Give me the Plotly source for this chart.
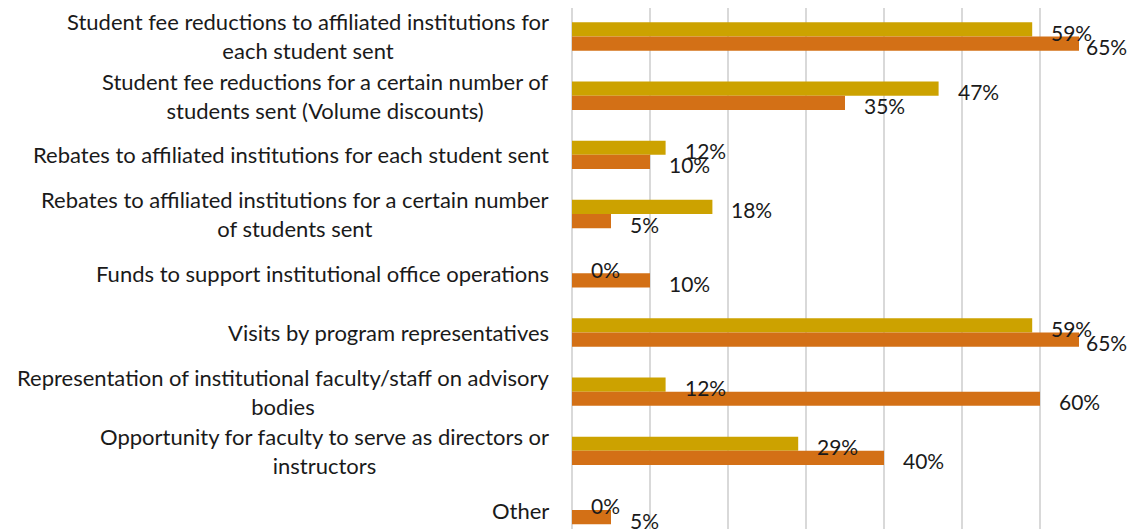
import plotly.graph_objects as go

categories = [
    "Student fee reductions to affiliated institutions for<br>each student sent",
    "Student fee reductions for a certain number of<br>students sent (Volume discounts)",
    "Rebates to affiliated institutions for each student sent",
    "Rebates to affiliated institutions for a certain number<br>of students sent",
    "Funds to support institutional office operations",
    "Visits by program representatives",
    "Representation of institutional faculty/staff on advisory<br>bodies",
    "Opportunity for faculty to serve as directors or<br>instructors",
    "Other",
]
series_gold = [0.59, 0.47, 0.12, 0.18, 0.00, 0.59, 0.12, 0.29, 0.00]
series_orange = [0.65, 0.35, 0.10, 0.05, 0.10, 0.65, 0.60, 0.40, 0.05]

GOLD = "#CCA200"
ORANGE = "#D37016"
FONT = "Lato"
FS_CAT = 22
FS_VAL = 21

W, H = 1135, 521
ML, MR, MT, MB = 564, 25, 0, 0
XMAX = 0.70
plot_w = W - ML - MR

fig = go.Figure()
fig.add_trace(go.Bar(y=categories, x=series_gold, orientation="h",
                     marker=dict(color=GOLD, line=dict(width=0)), name="A"))
fig.add_trace(go.Bar(y=categories, x=series_orange, orientation="h",
                     marker=dict(color=ORANGE, line=dict(width=0)), name="B"))

bargap = 0.52
bw = (1 - bargap) / 2
annotations = []
for i, cat in enumerate(categories):
    annotations.append(dict(x=0, xref="paper", y=i, yref="y", text=cat,
                            xanchor="right", yanchor="middle", align="center",
                            xshift=-21, showarrow=False,
                            font=dict(family=FONT, size=FS_CAT, color="#1a1a1a")))
    for vals, off in ((series_gold, -bw / 2), (series_orange, bw / 2)):
        v = vals[i]
        px = v / XMAX * plot_w
        gap = 17
        if px + gap + 44 > plot_w + 10:
            gap = plot_w + 10 - 44 - px
        annotations.append(dict(x=v, xref="x", y=i + off, yref="y",
                                text=f"{round(v*100)}%", xanchor="left",
                                yanchor="middle", xshift=gap, yshift=-3,
                                showarrow=False,
                                font=dict(family=FONT, size=FS_VAL, color="#1a1a1a")))

fig.update_layout(
    width=W, height=H,
    margin=dict(l=ML, r=MR, t=MT, b=MB),
    barmode="group", bargap=bargap, bargroupgap=0,
    showlegend=False,
    plot_bgcolor="white", paper_bgcolor="white",
    annotations=annotations,
    xaxis=dict(range=[0, XMAX], dtick=0.1, showticklabels=False,
               showgrid=True, gridcolor="#D9D9D9", gridwidth=2,
               zeroline=True, zerolinecolor="#D9D9D9", zerolinewidth=2,
               showline=False, ticks=""),
    yaxis=dict(type="category", range=[8.32, -0.481], showticklabels=False,
               showgrid=False, zeroline=False, showline=False, ticks=""),
)

fig.write_html("out.html")
